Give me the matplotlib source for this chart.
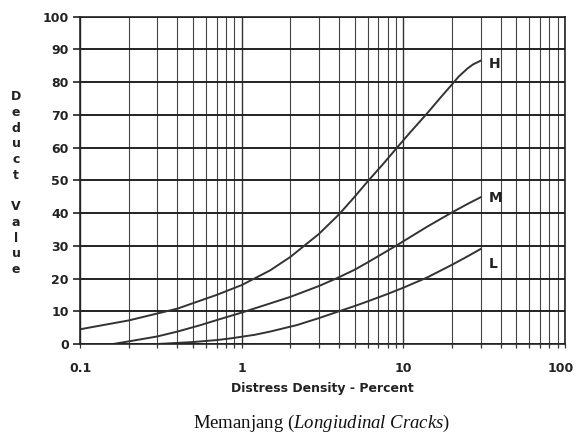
import matplotlib
matplotlib.use("Agg")
import matplotlib.pyplot as plt
import matplotlib.ticker as mticker
import matplotlib.transforms as mtransforms
import numpy as np

plt.rcParams['mathtext.fontset'] = 'custom'
plt.rcParams['mathtext.rm'] = 'Liberation Serif'
plt.rcParams['mathtext.it'] = 'Liberation Serif:italic'

# curves (distress density %, deduct value)
h_x = [0.1, 0.2, 0.4, 0.7, 1, 1.5, 2, 3, 4, 5, 6, 7.5, 9, 11, 14, 17, 20, 22,
       25, 27, 30]
h_y = [4.5, 7.2, 10.8, 15, 18, 22.5, 26.6, 33.6, 39.6, 45, 49.6, 55, 59.6,
       64.6, 70.4, 75.3, 79.3, 81.7, 84.2, 85.4, 86.5]

m_x = [0.16, 0.2, 0.3, 0.4, 0.55, 0.7, 1, 1.5, 2, 3, 4, 5, 6, 9, 14, 20, 25,
       30]
m_y = [0, 0.8, 2.3, 3.8, 5.7, 7.3, 9.6, 12.4, 14.4, 17.7, 20.4, 22.7, 24.9,
       30, 35.8, 40.2, 42.8, 44.8]

l_x = [0.3, 0.5, 0.7, 0.85, 1.2, 1.5, 2.2, 3, 4, 5, 6, 8, 10, 14, 20, 25, 30]
l_y = [0, 0.6, 1.2, 1.7, 2.8, 3.8, 5.8, 7.9, 10, 11.6, 13, 15.3, 17.2, 20.3,
       24.2, 26.8, 29]

curve_names = ['H', 'M', 'L']
label_y = [85.5, 44.5, 24.5]

y_ticks = list(range(0, 101, 10))
x_ticks = [0.1, 1, 10, 100]
x_ticklabels = ['0.1', '1', '10', '100']

fig = plt.figure(figsize=(5.76, 4.36), dpi=100)
ax = fig.add_axes([0.139, 0.211, 0.842, 0.751])

ax.set_xscale('log')
ax.set_xlim(0.1, 100)
ax.set_ylim(0, 100)

# grid
ax.set_yticks(y_ticks)
ax.set_xticks(x_ticks)
ax.set_xticklabels(x_ticklabels)
ax.xaxis.set_minor_locator(mticker.LogLocator(base=10, subs=np.arange(2, 10)))
ax.xaxis.set_minor_formatter(mticker.NullFormatter())
ax.yaxis.grid(True, color='#222222', lw=1.4)
ax.xaxis.grid(True, which='major', color='#333333', lw=1.0)
ax.xaxis.grid(True, which='minor', color='#444444', lw=0.8)
ax.set_axisbelow(True)

for s in ax.spines.values():
    s.set_color('#222222')
    s.set_linewidth(1.2)

ax.tick_params(axis='y', direction='out', length=5, width=1.2, pad=3,
               color='#222222')
ax.tick_params(axis='x', which='both', direction='out', length=3, width=0.9,
               pad=10, color='#333333')
for lab in ax.get_xticklabels() + ax.get_yticklabels():
    lab.set_fontfamily('DejaVu Sans')
    lab.set_fontweight('bold')
    lab.set_fontsize(9)
    lab.set_color('#222222')

# keep the "100" label inside the figure
last = ax.get_xticklabels()[-1]
last.set_transform(last.get_transform() +
                   mtransforms.ScaledTranslation(-3 / 72, 0, fig.dpi_scale_trans))

for xs, ys, name, ly in zip([h_x, m_x, l_x], [h_y, m_y, l_y], curve_names, label_y):
    ax.plot(xs, ys, '-', color='#333333', lw=1.4)
    ax.text(xs[-1] * 1.12, ly, name, fontsize=10, fontweight='bold',
            family='DejaVu Sans', color='#222222', ha='left', va='center')

ax.set_xlabel('Distress Density - Percent', fontsize=9, fontweight='bold',
              family='DejaVu Sans', color='#222222', labelpad=5)

fig.text(0.028, 0.58, 'D\ne\nd\nu\nc\nt\n\nV\na\nl\nu\ne', ha='center',
         va='center', fontsize=9, fontweight='bold', family='DejaVu Sans',
         color='#222222', linespacing=1.27)

fig.text(0.559, 0.028, r'Memanjang ($\mathit{Longiudinal\ Cracks}$)',
         ha='center', va='center', fontsize=13.5, family='Liberation Serif',
         color='#111111')

plt.savefig('out.png', dpi=100)
